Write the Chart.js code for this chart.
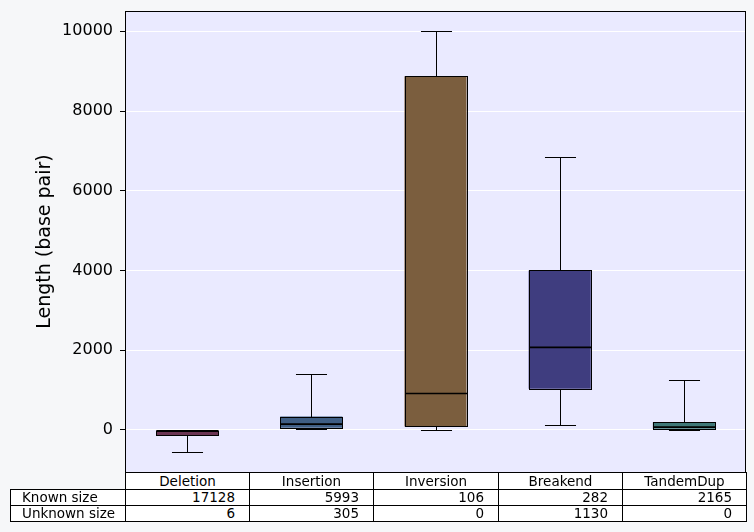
<!DOCTYPE html>
<html lang="en">
<head>
  <meta charset="UTF-8" />
  <title>SV length by type</title>
  <script src="https://cdn.jsdelivr.net/npm/chart.js"></script>
  <style>
    body {
      margin: 0;
      background: #f6f7f9;
      font-family: 'DejaVu Sans', sans-serif;
    }
    .wrap {
      position: relative;
      width: 754px;
      height: 532px;
    }
    #chart {
      position: absolute;
      left: 0;
      top: 0;
    }
    .cell {
      position: absolute;
      box-sizing: border-box;
      border: 1px solid #000;
      background: #fff;
      font-size: 13.5px;
      color: #000;
      white-space: nowrap;
      overflow: hidden;
    }
    .head { text-align: center; }
    .label { text-align: left; padding-left: 11px; }
    .num { text-align: right; padding-right: 14px; }
  </style>
</head>
<body>
  <div class="wrap" id="wrap">
    <canvas id="chart" width="754" height="532"></canvas>
  </div>

  <script>
    const categories = ['Deletion', 'Insertion', 'Inversion', 'Breakend', 'TandemDup'];
    const whiskerLow  = [-550, 25, 0, 125, 0];
    const q1          = [-135, 50, 85, 1030, 25];
    const median      = [-30, 140, 910, 2070, 65];
    const q3          = [-20, 330, 8870, 4000, 190];
    const whiskerHigh = [0, 1410, 10000, 6840, 1240];
    const boxColors = ['#6a3452', '#3f5e84', '#7b5e3e', '#3f3d7f', '#3e7777'];
    const yTicks = [0, 2000, 4000, 6000, 8000, 10000];

    const rowLabels = ['Known size', 'Unknown size'];
    const knownSize = [17128, 5993, 106, 282, 2165];
    const unknownSize = [6, 305, 0, 1130, 0];

    const boxExtras = {
      id: 'boxExtras',
      beforeDraw(chart) {
        const { ctx, chartArea: a } = chart;
        ctx.save();
        ctx.fillStyle = '#eaeaff';
        ctx.fillRect(a.left, a.top, a.right - a.left, a.bottom - a.top);
        ctx.restore();
      },
      afterDatasetsDraw(chart) {
        const { ctx } = chart;
        const y = chart.scales.y;
        const meta = chart.getDatasetMeta(0);
        const line = (x1, y1, x2, y2, w) => {
          ctx.lineWidth = w;
          ctx.beginPath();
          ctx.moveTo(x1, y1);
          ctx.lineTo(x2, y2);
          ctx.stroke();
        };
        ctx.save();
        ctx.strokeStyle = '#000';
        categories.forEach((c, i) => {
          const bar = meta.data[i];
          const cx = Math.round(bar.x) + 0.5;
          const half = bar.width / 2;
          const py = v => Math.round(y.getPixelForValue(v)) + 0.5;
          // box outline redrawn crisp
          ctx.lineWidth = 1;
          ctx.strokeRect(Math.round(cx - half) + 0.5, py(q3[i]), Math.round(half * 2), py(q1[i]) - py(q3[i]));
          line(cx, py(q3[i]), cx, py(whiskerHigh[i]), 1);
          line(cx, py(q1[i]), cx, py(whiskerLow[i]), 1);
          line(cx - half / 2, py(whiskerHigh[i]), cx + half / 2, py(whiskerHigh[i]), 1);
          line(cx - half / 2, py(whiskerLow[i]), cx + half / 2, py(whiskerLow[i]), 1);
          line(cx - half, y.getPixelForValue(median[i]), cx + half, y.getPixelForValue(median[i]), 1.7);
        });
        ctx.restore();
      },
      afterDraw(chart) {
        const { ctx, chartArea: a } = chart;
        ctx.save();
        ctx.strokeStyle = '#000';
        ctx.lineWidth = 1;
        ctx.strokeRect(Math.round(a.left) + 0.5, Math.round(a.top) + 0.5,
          Math.round(a.right - a.left) - 1, Math.round(a.bottom - a.top));
        ctx.restore();
      }
    };

    const chart = new Chart(document.getElementById('chart'), {
      type: 'bar',
      data: {
        labels: categories,
        datasets: [{
          data: categories.map((c, i) => [q1[i], q3[i]]),
          backgroundColor: boxColors,
          borderWidth: 0,
          barPercentage: 0.5,
          categoryPercentage: 1
        }]
      },
      options: {
        responsive: false,
        animation: false,
        layout: { padding: { left: 0, top: 11, right: 8, bottom: 60 } },
        plugins: {
          legend: { display: false },
          tooltip: { enabled: false }
        },
        scales: {
          x: { display: false },
          y: {
            min: -1060,
            max: 10510,
            afterBuildTicks: scale => { scale.ticks = yTicks.map(v => ({ value: v })); },
            afterFit: scale => {
              scale.width = 125;
              scale.paddingTop = 0;
              scale.paddingBottom = 0;
            },
            grid: {
              color: '#ffffff',
              lineWidth: 1,
              tickColor: '#000',
              tickLength: 5
            },
            border: { display: false },
            ticks: {
              color: '#000',
              padding: 7,
              font: { family: 'DejaVu Sans', size: 16 },
              callback: v => String(v)
            },
            title: {
              display: true,
              text: 'Length (base pair)',
              color: '#000',
              font: { family: 'DejaVu Sans', size: 19 },
              padding: { top: 34, bottom: 0 }
            }
          }
        }
      },
      plugins: [boxExtras]
    });

    // table under the plot, columns follow the chart area
    const area = chart.chartArea;
    const wrap = document.getElementById('wrap');
    const colW = (area.right - area.left) / categories.length;
    const rowY = [472, 489, 505, 521];
    const addCell = (x, y, w, h, text, cls) => {
      const d = document.createElement('div');
      d.className = 'cell ' + cls;
      d.style.left = x + 'px';
      d.style.top = y + 'px';
      d.style.width = (w + 1) + 'px';
      d.style.height = (h + 1) + 'px';
      d.style.lineHeight = (h - 1) + 'px';
      d.textContent = text;
      wrap.appendChild(d);
    };
    const rows = [knownSize, unknownSize];
    categories.forEach((c, i) => {
      const x = Math.round(area.left + i * colW);
      const w = Math.round(area.left + (i + 1) * colW) - x;
      addCell(x, rowY[0], w, rowY[1] - rowY[0], c, 'head');
      rows.forEach((r, j) => {
        addCell(x, rowY[j + 1], w, rowY[j + 2] - rowY[j + 1], String(r[i]), 'num');
      });
    });
    rowLabels.forEach((label, j) => {
      addCell(10, rowY[j + 1], Math.round(area.left) - 10, rowY[j + 2] - rowY[j + 1], label, 'label');
    });
  </script>
</body>
</html>
